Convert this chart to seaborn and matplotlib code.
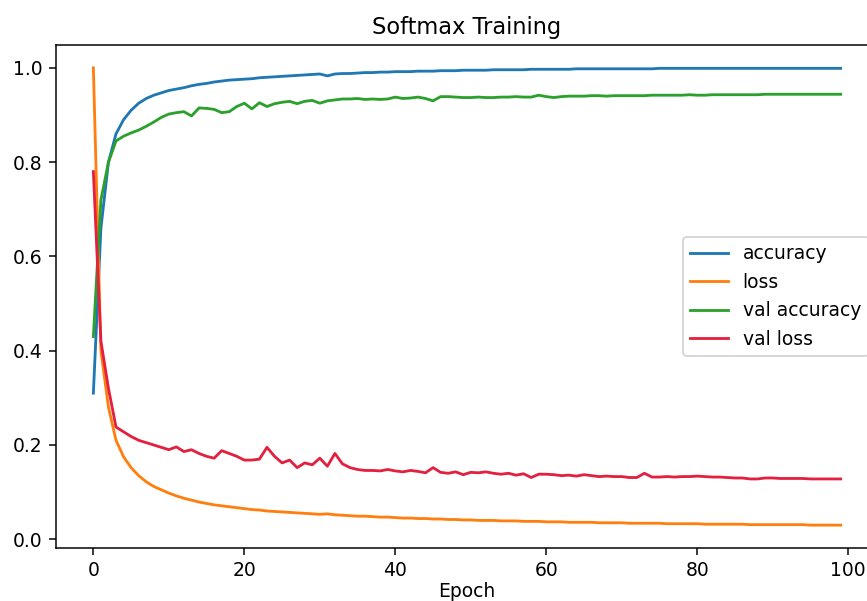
import numpy as np
import pandas as pd
import matplotlib
matplotlib.use("Agg")
import matplotlib.pyplot as plt
import seaborn as sns

epochs = list(range(100))

accuracy = [0.31, 0.66, 0.80, 0.86, 0.89, 0.91, 0.925, 0.935, 0.942, 0.947,
            0.952, 0.955, 0.958, 0.962, 0.965, 0.967, 0.970, 0.972, 0.974, 0.975,
            0.976, 0.977, 0.979, 0.980, 0.981, 0.982, 0.983, 0.984, 0.985, 0.986,
            0.987, 0.983, 0.987, 0.988, 0.988, 0.989, 0.990, 0.990, 0.991, 0.991,
            0.992, 0.992, 0.992, 0.993, 0.993, 0.993, 0.994, 0.994, 0.994, 0.995,
            0.995, 0.995, 0.995, 0.996, 0.996, 0.996, 0.996, 0.996, 0.997, 0.997,
            0.997, 0.997, 0.997, 0.997, 0.998, 0.998, 0.998, 0.998, 0.998, 0.998,
            0.998, 0.998, 0.998, 0.998, 0.998, 0.999, 0.999, 0.999, 0.999, 0.999,
            0.999, 0.999, 0.999, 0.999, 0.999, 0.999, 0.999, 0.999, 0.999, 0.999,
            0.999, 0.999, 0.999, 0.999, 0.999, 0.999, 0.999, 0.999, 0.999, 0.999]

loss = [1.00, 0.40, 0.28, 0.21, 0.175, 0.152, 0.135, 0.122, 0.112, 0.105,
        0.098, 0.092, 0.087, 0.083, 0.079, 0.076, 0.073, 0.071, 0.069, 0.067,
        0.065, 0.063, 0.062, 0.060, 0.059, 0.058, 0.057, 0.056, 0.055, 0.054,
        0.053, 0.054, 0.052, 0.051, 0.050, 0.049, 0.049, 0.048, 0.047, 0.047,
        0.046, 0.045, 0.045, 0.044, 0.044, 0.043, 0.043, 0.042, 0.042, 0.041,
        0.041, 0.040, 0.040, 0.040, 0.039, 0.039, 0.039, 0.038, 0.038, 0.038,
        0.037, 0.037, 0.037, 0.036, 0.036, 0.036, 0.036, 0.035, 0.035, 0.035,
        0.035, 0.034, 0.034, 0.034, 0.034, 0.034, 0.033, 0.033, 0.033, 0.033,
        0.033, 0.032, 0.032, 0.032, 0.032, 0.032, 0.032, 0.031, 0.031, 0.031,
        0.031, 0.031, 0.031, 0.031, 0.031, 0.030, 0.030, 0.030, 0.030, 0.030]

val_accuracy = [0.43, 0.72, 0.80, 0.845, 0.855, 0.862, 0.868, 0.876, 0.885, 0.895,
                0.902, 0.905, 0.907, 0.898, 0.915, 0.914, 0.912, 0.905, 0.907, 0.918,
                0.925, 0.913, 0.926, 0.918, 0.924, 0.927, 0.929, 0.924, 0.929, 0.931,
                0.925, 0.930, 0.932, 0.934, 0.934, 0.935, 0.933, 0.934, 0.933, 0.934,
                0.938, 0.935, 0.936, 0.938, 0.935, 0.930, 0.939, 0.939, 0.938, 0.937,
                0.937, 0.938, 0.937, 0.937, 0.938, 0.938, 0.939, 0.938, 0.938, 0.942,
                0.939, 0.937, 0.939, 0.940, 0.940, 0.940, 0.941, 0.941, 0.940, 0.941,
                0.941, 0.941, 0.941, 0.941, 0.942, 0.942, 0.942, 0.942, 0.942, 0.943,
                0.942, 0.942, 0.943, 0.943, 0.943, 0.943, 0.943, 0.943, 0.943, 0.944,
                0.944, 0.944, 0.944, 0.944, 0.944, 0.944, 0.944, 0.944, 0.944, 0.944]

val_loss = [0.78, 0.42, 0.32, 0.238, 0.228, 0.218, 0.210, 0.205, 0.200, 0.195,
            0.190, 0.196, 0.186, 0.190, 0.182, 0.176, 0.172, 0.188, 0.182, 0.176,
            0.168, 0.168, 0.170, 0.195, 0.176, 0.162, 0.168, 0.152, 0.162, 0.158,
            0.172, 0.155, 0.182, 0.160, 0.152, 0.148, 0.146, 0.146, 0.145, 0.148,
            0.145, 0.143, 0.146, 0.144, 0.141, 0.152, 0.142, 0.140, 0.143, 0.137,
            0.142, 0.141, 0.143, 0.140, 0.138, 0.140, 0.136, 0.139, 0.131, 0.138,
            0.138, 0.137, 0.135, 0.136, 0.134, 0.137, 0.135, 0.133, 0.134, 0.133,
            0.133, 0.131, 0.131, 0.140, 0.132, 0.132, 0.133, 0.132, 0.133, 0.133,
            0.134, 0.133, 0.132, 0.132, 0.131, 0.130, 0.130, 0.128, 0.128, 0.130,
            0.130, 0.129, 0.129, 0.129, 0.129, 0.128, 0.128, 0.128, 0.128, 0.128]

series_names = ["accuracy", "loss", "val accuracy", "val loss"]
series_values = [accuracy, loss, val_accuracy, val_loss]
colors = ["#1f77b4", "#ff7f0e", "#2ca02c", "#e3203f"]

frames = []
for name, vals in zip(series_names, series_values):
    frames.append(pd.DataFrame({"Epoch": epochs, "value": vals, "series": name}))
df = pd.concat(frames, ignore_index=True)

dpi = 135
fig = plt.figure(figsize=(867 / dpi, 601 / dpi), dpi=dpi)
ax = fig.add_axes([56 / 867, 53 / 601, 822 / 867, 503 / 601])

sns.lineplot(data=df, x="Epoch", y="value", hue="series",
             hue_order=series_names, palette=dict(zip(series_names, colors)),
             linewidth=1.5, ax=ax)

ax.set_title("Softmax Training", fontsize=12)
ax.set_xlabel("Epoch", labelpad=1)
ax.set_ylabel("")
ax.set_yticks([0.0, 0.2, 0.4, 0.6, 0.8, 1.0])
ax.set_xticks([0, 20, 40, 60, 80, 100])

handles, labels = ax.get_legend_handles_labels()
ax.legend(handles, labels, loc="center right", title=None)

fig.savefig("out.png", dpi=dpi)
